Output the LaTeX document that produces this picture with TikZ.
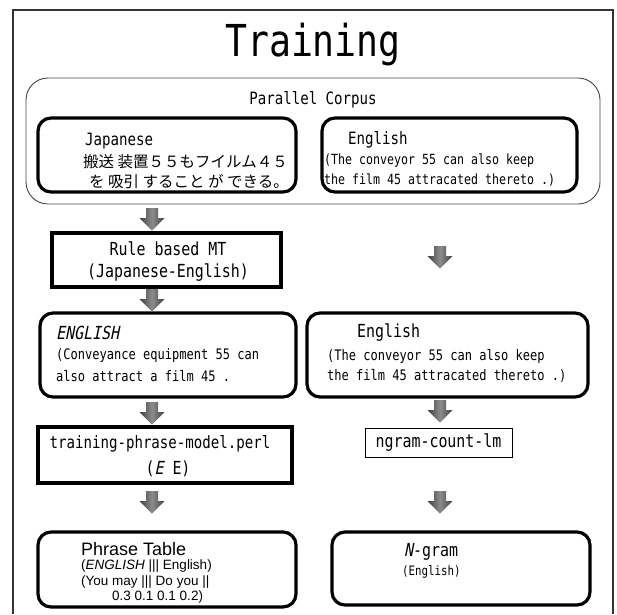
\documentclass[tikz,border=0pt]{standalone}
\usepackage{fontspec}
\newfontfamily\gf{DejaVu Sans Mono}[FakeStretch=0.83]
\newfontfamily\gfi{DejaVu Sans Mono}[FakeStretch=0.83,FakeSlant=0.2]
\newfontfamily\jf{Noto Sans CJK JP}
\newfontfamily\af{Liberation Sans}
\newfontfamily\afi{Liberation Sans Italic}
\newcommand\myfs[1]{\fontsize{#1}{#1}\selectfont}
\definecolor{framec}{HTML}{333333}
\definecolor{corpc}{HTML}{444444}
\tikzset{
  thickbox/.style={draw=black, line width=3.2pt, inner sep=0pt},
  thickround/.style={thickbox, rounded corners=13pt},
  thinbox/.style={draw=black, line width=1pt, inner sep=0pt},
  txt/.style={inner sep=0pt, anchor=west, text=black},
  ctxt/.style={inner sep=0pt, anchor=center, text=black},
  barrow/.pic={\shade[left color=black!75, right color=black!75, middle color=black!45]
    (-6,-11) -- (6,-11) -- (6,-1) -- (12.5,-1) -- (0,11.5) -- (-12.5,-1) -- (-6,-1) -- cycle;},
}
\begin{document}
\begin{tikzpicture}[x=1pt,y=-1pt]
\useasboundingbox (0,0) rectangle (617,614);
\fill[white] (0,0) rectangle (617,614);
% outer frame (open at bottom)
\draw[framec, line width=1.2pt] (13,614) -- (13,10) -- (613,10) -- (613,614);
\node[ctxt] (title) at (313,45) {\gf\myfs{44}Training};

% parallel corpus
\node[draw=corpc, line width=0.9pt, rounded corners=22pt, minimum width=574pt, minimum height=126pt, inner sep=0pt] (corpus) at (313,141) {};
\node[ctxt] (pc) at (313,100) {\gf\myfs{17}Parallel Corpus};

\node[thickround, minimum width=258pt, minimum height=74pt] (jpbox) at (167,155) {};
\node[txt] (jp1) at (85,141) {\gf\myfs{17}Japanese};
\node[txt] (jp2) at (83,162) {\jf\myfs{15.5}搬送 装置５５もフイルム４５};
\node[txt] (jp3) at (89,182) {\jf\myfs{15.5}を 吸引 すること が できる。};

\node[thickround, minimum width=255pt, minimum height=74pt] (enbox) at (449.5,155) {};
\node[txt] (en1) at (348,140) {\gf\myfs{17}English};
\node[txt] (en2) at (324,161) {\gf\myfs{14}(The conveyor 55 can also keep};
\node[txt] (en3) at (324,180) {\gf\myfs{14}the film 45 attracated thereto .)};

% rule based MT
\node[thickbox, minimum width=229pt, minimum height=54pt] (rule) at (166.5,260) {};
\node[ctxt] (r1) at (168,249) {\gf\myfs{18}Rule based MT};
\node[ctxt] (r2) at (168,273) {\gf\myfs{18}(Japanese-English)};

% ENGLISH (MT output)
\node[thickround, minimum width=256pt, minimum height=84pt] (mtbox) at (168,355) {};
\node[txt] (m1) at (56,333) {\gfi\myfs{18}ENGLISH};
\node[txt] (m2) at (56,356) {\gf\myfs{14.5}(Conveyance equipment 55 can};
\node[txt] (m3) at (56,376) {\gf\myfs{14.5}also attract a film 45 .};

% English (reference)
\node[thickround, minimum width=281pt, minimum height=84pt] (refbox) at (447.5,355) {};
\node[txt] (e1) at (357,333) {\gf\myfs{18}English};
\node[txt] (e2) at (327,356) {\gf\myfs{14.5}(The conveyor 55 can also keep};
\node[txt] (e3) at (327,376) {\gf\myfs{14.5}the film 45 attracated thereto .)};

% training-phrase-model
\node[thickbox, minimum width=254pt, minimum height=56pt] (tpm) at (165,455) {};
\node[ctxt] (t1) at (160,444) {\gf\myfs{17}training-phrase-model.perl};
\node[ctxt] (t2) at (168,469) {\gf\myfs{18}({\gfi E} E)};

% ngram-count-lm
\node[thinbox, minimum width=147pt, minimum height=29pt] (ngc) at (438.5,442.5) {\gf\myfs{18}ngram-count-lm};

% phrase table
\node[thickround, minimum width=258pt, minimum height=75pt] (pt) at (167,569.5) {};
\node[txt] (p1) at (81,549) {\af\myfs{18}Phrase Table};
\node[txt] (p2) at (81,566) {\af\myfs{13.5}(\afi ENGLISH\af\ ||| English)};
\node[txt] (p3) at (81,582) {\af\myfs{13.5}(You may ||| Do you ||};
\node[txt] (p4) at (112,597) {\af\myfs{13.5}0.3 0.1 0.1 0.2)};

% N-gram
\node[thickround, minimum width=258pt, minimum height=73pt] (ng) at (461,568.5) {};
\node[txt] (n1) at (404,552) {\gf\myfs{18}{\gfi N}-gram};
\node[txt] (n2) at (402,572) {\gf\myfs{13}(English)};

% block arrows
\pic at (152,219) {barrow};
\pic at (440,257) {barrow};
\pic at (152,300) {barrow};
\pic at (152,413) {barrow};
\pic at (440,411) {barrow};
\pic at (152,502) {barrow};
\pic at (440,502) {barrow};
\end{tikzpicture}
\end{document}
